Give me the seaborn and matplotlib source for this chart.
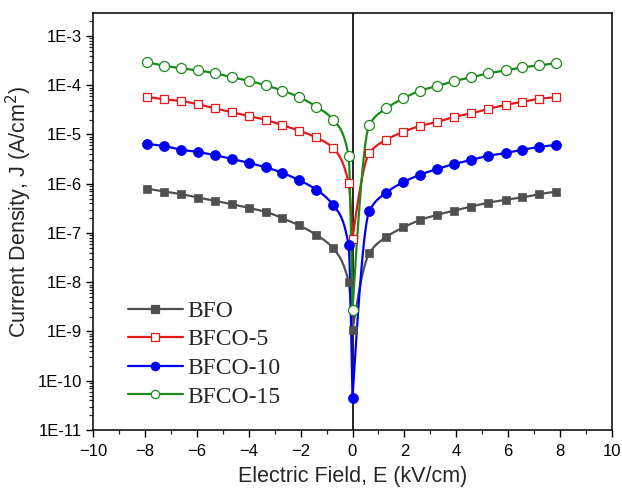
import numpy as np
import pandas as pd
import matplotlib
matplotlib.use("Agg")
import matplotlib.pyplot as plt
import seaborn as sns
from matplotlib.lines import Line2D
from matplotlib.ticker import LogLocator, FuncFormatter, MultipleLocator, NullFormatter

# ---------------- data ----------------
E_neg = [-7.9, -7.25, -6.6, -5.95, -5.3, -4.65, -4.0, -3.35, -2.7, -2.05, -1.4, -0.75, -0.15]
E_zero = [0.0]
E_pos = [0.65, 1.3, 1.96, 2.62, 3.27, 3.93, 4.58, 5.24, 5.9, 6.55, 7.2, 7.86]

series_names = ["BFO", "BFCO-5", "BFCO-10", "BFCO-15"]

BFO_neg = [7.9e-7, 6.95e-7, 6.15e-7, 5.25e-7, 4.5e-7, 3.85e-7, 3.24e-7, 2.7e-7, 2.0e-7, 1.42e-7, 9.2e-8, 4.9e-8, 1.0e-8]
BFO_zero = [1.05e-9]
BFO_pos = [3.9e-8, 8.3e-8, 1.3e-7, 1.85e-7, 2.34e-7, 2.86e-7, 3.45e-7, 4.15e-7, 4.7e-7, 5.3e-7, 6.15e-7, 6.95e-7]

BFCO5_neg = [5.8e-5, 5.2e-5, 4.8e-5, 4.1e-5, 3.4e-5, 2.83e-5, 2.38e-5, 1.98e-5, 1.55e-5, 1.2e-5, 8.7e-6, 5.3e-6, 1.03e-6]
BFCO5_zero = [7.6e-8]
BFCO5_pos = [4.2e-6, 7.8e-6, 1.13e-5, 1.5e-5, 1.8e-5, 2.28e-5, 2.7e-5, 3.3e-5, 4.0e-5, 4.6e-5, 5.3e-5, 5.7e-5]

BFCO10_neg = [6.4e-6, 5.8e-6, 4.9e-6, 4.4e-6, 3.8e-6, 3.2e-6, 2.65e-6, 2.17e-6, 1.66e-6, 1.18e-6, 7.6e-7, 3.7e-7, 5.6e-8]
BFCO10_zero = [4.5e-11]
BFCO10_pos = [2.8e-7, 6.6e-7, 1.08e-6, 1.54e-6, 2.0e-6, 2.53e-6, 3.05e-6, 3.7e-6, 4.2e-6, 4.9e-6, 5.6e-6, 6.15e-6]

BFCO15_neg = [2.9e-4, 2.5e-4, 2.2e-4, 2.0e-4, 1.75e-4, 1.45e-4, 1.24e-4, 1.0e-4, 7.8e-5, 5.7e-5, 3.7e-5, 2.0e-5, 3.7e-6]
BFCO15_zero = [2.7e-9]
BFCO15_pos = [1.57e-5, 3.4e-5, 5.4e-5, 7.8e-5, 9.7e-5, 1.22e-4, 1.45e-4, 1.75e-4, 2.0e-4, 2.3e-4, 2.55e-4, 2.8e-4]

x_ticks = [-10, -8, -6, -4, -2, 0, 2, 4, 6, 8, 10]

# ---------------- styling ----------------
colors = ["#505050", "#e41a1a", "#0000f0", "#1a8a1a"]
markers = ["s", "s", "o", "o"]
filled = [True, False, True, False]
msize = [38, 38, 52, 52]

sns.set_theme(style="ticks")
plt.rcParams["font.family"] = ["Liberation Sans", "DejaVu Sans"]


def pchip(x, y, xn):
    x = np.asarray(x, float)
    y = np.asarray(y, float)
    h = np.diff(x)
    d = np.diff(y) / h
    n = len(x)
    m = np.zeros(n)
    for k in range(1, n - 1):
        if d[k - 1] * d[k] > 0:
            w1 = 2 * h[k] + h[k - 1]
            w2 = h[k] + 2 * h[k - 1]
            m[k] = (w1 + w2) / (w1 / d[k - 1] + w2 / d[k])

    def endp(h0, h1, d0, d1):
        v = ((2 * h0 + h1) * d0 - h0 * d1) / (h0 + h1)
        if np.sign(v) != np.sign(d0):
            v = 0.0
        elif np.sign(d0) != np.sign(d1) and abs(v) > abs(3 * d0):
            v = 3 * d0
        return v

    m[0] = endp(h[0], h[1], d[0], d[1])
    m[-1] = endp(h[-1], h[-2], d[-1], d[-2])
    idx = np.clip(np.searchsorted(x, xn, side="right") - 1, 0, n - 2)
    t = (xn - x[idx]) / h[idx]
    h00 = 2 * t**3 - 3 * t**2 + 1
    h10 = t**3 - 2 * t**2 + t
    h01 = -2 * t**3 + 3 * t**2
    h11 = t**3 - t**2
    return h00 * y[idx] + h10 * h[idx] * m[idx] + h01 * y[idx + 1] + h11 * h[idx] * m[idx + 1]


def dense(xs):
    out = []
    for a, b in zip(xs[:-1], xs[1:]):
        out.append(np.linspace(a, b, 60, endpoint=False))
    out.append([xs[-1]])
    return np.concatenate(out)


all_data = [
    (BFO_neg, BFO_zero, BFO_pos),
    (BFCO5_neg, BFCO5_zero, BFCO5_pos),
    (BFCO10_neg, BFCO10_zero, BFCO10_pos),
    (BFCO15_neg, BFCO15_zero, BFCO15_pos),
]

fig = plt.figure(figsize=(6.22, 4.94), dpi=100)
ax = fig.add_axes([93 / 622, 64 / 494, 519 / 622, 417 / 494])

ax.axvline(0, color="black", lw=1.2, zorder=1.5)

handles = []
for i, (name, (jn, j0, jp)) in enumerate(zip(series_names, all_data)):
    c = colors[i]
    xl = np.array(E_neg + E_zero)
    yl = np.log10(np.array(jn + j0))
    xr = np.array(E_zero + E_pos)
    yr = np.log10(np.array(j0 + jp))
    for xx, yy in ((xl, yl), (xr, yr)):
        xd = dense(xx)
        yd = 10 ** pchip(xx, yy, xd)
        sns.lineplot(x=xd, y=yd, ax=ax, color=c, lw=1.6, sort=False,
                     estimator=None, zorder=2, legend=False)
    px = E_neg + E_zero + E_pos
    py = jn + j0 + jp
    df = pd.DataFrame({"E": px, "J": py})
    if filled[i]:
        sns.scatterplot(data=df, x="E", y="J", ax=ax, marker=markers[i], s=msize[i],
                        color=c, edgecolor=c, linewidth=0.5, zorder=3, legend=False)
    else:
        sns.scatterplot(data=df, x="E", y="J", ax=ax, marker=markers[i], s=msize[i],
                        facecolor="white", edgecolor=c, linewidth=0.9, zorder=3, legend=False)
    handles.append(Line2D([], [], color=c, lw=1.6, marker=markers[i], markersize=6,
                          markerfacecolor=c if filled[i] else "white",
                          markeredgecolor=c, markeredgewidth=0.9, label=name))

ax.set_yscale("log")
ax.set_xlim(-10, 10)
ax.set_ylim(1e-11, 10 ** -2.533)
ax.set_xticks(x_ticks)
ax.xaxis.set_minor_locator(MultipleLocator(1))
ax.yaxis.set_major_locator(LogLocator(base=10, numticks=20))
ax.yaxis.set_minor_locator(LogLocator(base=10, subs=np.arange(2, 10), numticks=20))
ax.yaxis.set_minor_formatter(NullFormatter())
ax.yaxis.set_major_formatter(FuncFormatter(lambda v, p: f"1E{int(round(np.log10(v)))}"))

ax.tick_params(axis="both", which="major", direction="out", length=5, width=1.0,
               labelsize=12, colors="black", pad=4)
ax.tick_params(axis="both", which="minor", direction="out", length=2.8, width=0.9)
ax.tick_params(axis="x", which="major", pad=5)
ax.tick_params(axis="y", which="major", pad=3)
ax.tick_params(top=False, right=False, which="both")

for sp in ax.spines.values():
    sp.set_linewidth(1.1)
    sp.set_color("black")
    sp.set_visible(True)

ax.set_xlabel("Electric Field, E (kV/cm)", fontsize=15.5, labelpad=5)
ax.set_ylabel("Current Density, J (A/cm$^2$)", fontsize=15.5)
ax.yaxis.set_label_coords(-0.113, 0.524)

leg = ax.legend(handles=handles, loc="upper left", bbox_to_anchor=(0.067, 0.311),
                frameon=False, borderaxespad=0, borderpad=0, handlelength=2.33,
                handletextpad=0.21, labelspacing=0.3,
                prop={"family": ["Liberation Serif"], "size": 17})

fig.savefig("out.png", dpi=100)
